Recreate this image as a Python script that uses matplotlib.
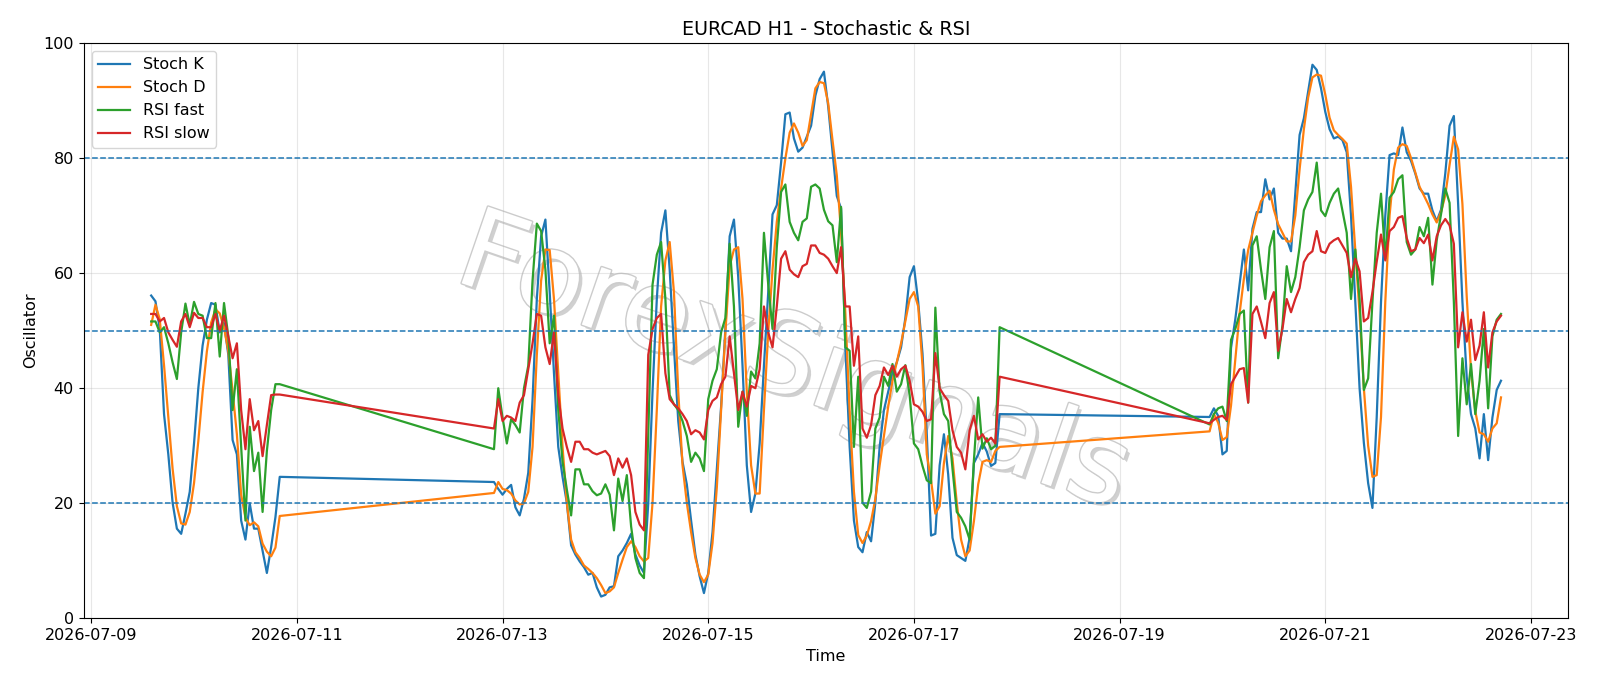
import matplotlib
matplotlib.use('Agg')
import matplotlib.pyplot as plt
import matplotlib.dates as mdates
import matplotlib.patheffects as pe
import pandas as pd

# hourly bars, three trading stretches (weekend gaps in between)
seg_starts = ['2026-07-09 14:00', '2026-07-12 22:00', '2026-07-19 21:00']
seg_hours = [31, 119, 69]

stoch_k = [
    # Jul 9 14:00 - Jul 10 20:00
    56.1, 55.1, 50.3, 35.5, 28.5, 20.1, 15.6, 14.7, 18.2, 22.0, 30.4, 40.0, 47.4, 51.9, 54.8, 54.5,
    49.7, 51.3, 45.8, 31.0, 28.5, 17.0, 13.7, 20.0, 15.6, 15.6, 11.8, 7.9, 12.4, 17.6, 24.6,
    # Jul 12 22:00 - Jul 17 20:00
    23.7, 22.5, 21.5, 22.5, 23.2, 19.3, 17.9, 20.8, 25.3, 38.0, 55.5, 66.4, 69.3, 56.7, 42.6, 29.8,
    24.6, 20.1, 12.7, 11.1, 9.9, 8.9, 7.6, 7.9, 5.4, 3.8, 4.1, 5.4, 5.6, 10.8, 11.8, 13.1, 14.7, 11.1, 9.2,
    7.9, 20.0, 39.4, 55.5, 67.0, 70.9, 60.6, 47.1, 34.3, 27.2, 23.3, 17.0, 11.1, 7.3, 4.4, 7.9, 15.0,
    25.9, 36.8, 50.3, 66.4, 69.3, 59.3, 43.9, 26.6, 18.5, 21.7, 30.4, 43.9, 56.7, 70.2, 71.8, 79.2, 87.6, 87.9,
    83.4, 81.1, 81.8, 83.7, 85.6, 90.8, 93.7, 95.0, 88.9, 81.1, 73.4, 71.2, 47.1, 29.8, 17.0, 12.4,
    11.5, 15.0, 13.4, 20.1, 29.8, 36.2, 39.4, 42.6, 44.5, 47.1, 52.2, 59.3, 61.2, 55.0, 46.0, 32.0,
    14.4, 14.7, 26.6, 32.0, 25.0, 14.0, 11.0, 10.5, 10.0, 14.0, 27.0, 28.5, 30.5, 29.0, 26.5, 27.0, 35.5,
    # Jul 19 21:00 - Jul 22 17:00
    35.0, 36.5, 35.2, 28.5, 29.1, 47.0, 52.0, 58.0, 64.1, 57.0, 67.7, 70.6, 70.6, 76.3, 72.8, 74.7,
    67.0, 66.0, 66.0, 63.8, 74.0, 84.0, 86.9, 91.5, 96.2, 95.3, 92.1, 88.0, 85.0, 83.4, 83.7, 83.1,
    81.0, 70.0, 55.0, 40.0,
    30.5, 23.5, 19.2, 35.0, 55.0, 70.0, 80.5, 80.8, 80.5, 85.3, 81.0, 79.5, 77.3, 74.7, 73.8, 73.8,
    70.9, 69.0, 71.0, 77.3, 85.6, 87.3, 72.0, 55.0, 42.0, 35.5, 33.0, 27.8, 35.5, 27.5, 34.9, 39.7, 41.3,
]

stoch_d = [
    51.0, 54.5, 52.0, 44.0, 35.0, 26.0, 19.5, 16.5, 16.3, 18.5, 23.5, 30.8, 39.3, 46.4, 51.4, 53.7,
    53.0, 50.5, 46.5, 39.5, 32.0, 21.5, 17.5, 16.2, 16.7, 16.0, 13.0, 11.6, 10.8, 12.3, 17.8,
    21.8, 23.7, 22.5, 22.3, 21.7, 20.5, 19.8, 20.0, 22.0, 29.8, 45.8, 58.7, 64.1, 64.0, 55.5, 42.6,
    29.8, 20.1, 13.7, 11.5, 10.5, 9.2, 8.6, 7.9, 7.0, 5.8, 4.4, 4.7, 5.4, 7.9, 10.2, 12.4, 13.4, 12.4, 10.8,
    9.9, 10.5, 20.1, 36.2, 54.2, 62.2, 65.4, 56.7, 39.4, 26.6, 20.1, 15.0, 10.5, 7.6, 6.3, 7.6, 13.1,
    22.7, 36.2, 49.7, 61.2, 64.1, 64.5, 55.5, 39.4, 26.6, 21.7, 21.7, 36.2, 49.7, 60.6, 68.9, 74.7, 79.9, 84.4,
    86.0, 84.4, 82.1, 83.1, 87.6, 92.1, 93.2, 93.0, 89.5, 83.1, 77.0, 67.0, 53.0, 36.0, 22.0, 14.5,
    13.1, 14.4, 16.9, 20.8, 26.6, 31.7, 36.8, 41.3, 44.5, 47.8, 51.6, 55.5, 56.7, 54.2, 43.9, 28.5,
    24.0, 18.2, 19.5, 27.0, 31.7, 27.8, 20.1, 13.7, 10.8, 11.8, 16.9, 23.3, 27.2, 27.5, 27.2, 29.1, 29.8,
    32.5, 35.5, 34.0, 31.0, 31.5, 37.0, 45.0, 53.0, 59.0, 64.0, 67.0, 70.0, 72.5, 73.5, 74.3, 71.0,
    68.5, 67.0, 65.5, 65.5, 70.0, 78.0, 85.0, 90.5, 94.0, 94.5, 94.3, 91.0, 87.0, 84.8, 84.0, 83.3,
    82.5, 75.0, 64.0, 53.0,
    40.0, 30.0, 24.6, 24.9, 35.0, 55.0, 70.0, 78.0, 81.8, 82.4, 82.1, 80.0, 77.5, 75.0, 73.5, 72.0,
    70.2, 68.8, 70.6, 73.5, 78.8, 83.7, 81.5, 72.0, 56.0, 43.0, 36.0, 32.3, 32.0, 30.7, 33.0, 33.9, 38.4,
]

rsi_fast = [
    51.6, 51.6, 49.7, 50.6, 47.8, 44.5, 41.6, 49.7, 54.7, 51.0, 55.0, 52.9, 52.6, 48.7, 48.7, 54.8,
    45.5, 54.8, 49.0, 36.2, 43.3, 29.8, 17.0, 33.3, 25.6, 28.8, 18.5, 29.1, 36.2, 40.7, 40.7,
    29.4, 40.0, 34.9, 30.4, 34.6, 33.6, 32.3, 40.0, 43.9, 58.7, 68.6, 67.3, 60.6, 47.8, 52.6, 36.2,
    27.2, 22.4, 17.9, 25.9, 25.9, 23.3, 23.3, 22.1, 21.4, 21.7, 23.3, 21.5, 15.3, 24.3, 20.4, 24.9, 16.0, 10.5, 7.9,
    7.0, 32.0, 58.0, 63.2, 65.4, 55.5, 38.8, 37.2, 36.2, 34.3, 31.7, 27.2, 28.8, 27.8, 25.6, 38.1, 41.3,
    43.3, 49.7, 52.2, 65.1, 54.2, 33.3, 39.4, 35.2, 42.9, 41.7, 47.8, 67.0, 58.0, 50.3, 64.5, 74.1, 75.4, 68.9,
    67.0, 65.7, 68.9, 69.5, 75.0, 75.4, 74.7, 71.0, 69.0, 68.3, 61.9, 71.5, 47.1, 46.5, 29.8, 42.0,
    20.1, 19.2, 22.0, 33.0, 34.9, 42.0, 40.4, 44.2, 39.4, 40.7, 44.0, 38.8, 30.4, 29.4, 26.5, 24.0,
    23.5, 54.0, 39.4, 35.5, 34.3, 26.0, 18.5, 17.5, 16.0, 13.7, 27.5, 38.4, 29.5, 31.3, 29.4, 30.0, 50.6,
    33.7, 35.5, 36.5, 36.8, 34.3, 48.4, 50.3, 52.9, 53.5, 37.5, 64.8, 66.4, 60.6, 55.5, 64.5, 67.3,
    45.2, 50.9, 61.2, 56.7, 59.3, 64.5, 70.9, 72.8, 74.1, 79.2, 70.9, 69.9, 72.2, 73.8, 74.7, 70.9,
    67.0, 55.5, 64.1, 55.5,
    39.7, 41.7, 55.0, 67.0, 73.8, 62.5, 73.1, 74.1, 76.3, 77.0, 65.4, 63.2, 64.1, 68.0, 66.4, 69.6,
    58.0, 65.7, 70.2, 74.7, 72.2, 55.0, 31.7, 45.2, 37.2, 44.2, 35.5, 41.3, 50.3, 36.5, 49.0, 51.9, 52.9,
]

rsi_slow = [
    52.9, 52.9, 51.6, 52.2, 49.7, 48.4, 47.2, 51.6, 52.9, 50.6, 53.1, 52.2, 52.2, 50.6, 50.6, 52.9,
    50.0, 52.6, 49.0, 45.2, 47.8, 36.2, 29.4, 38.1, 32.7, 34.3, 28.2, 33.6, 38.8, 38.9, 38.9,
    33.0, 38.1, 34.3, 35.2, 34.9, 34.3, 37.5, 38.8, 43.3, 47.8, 52.9, 52.6, 47.1, 44.2, 49.7, 38.8,
    33.0, 29.8, 27.2, 30.7, 30.7, 29.4, 29.4, 28.8, 28.5, 28.8, 29.1, 28.2, 24.9, 27.8, 26.2, 27.8, 24.9, 18.5, 16.3,
    15.3, 45.8, 50.3, 52.2, 52.9, 42.6, 38.1, 37.2, 36.5, 35.5, 34.3, 32.0, 32.7, 32.3, 31.1, 36.2, 37.8,
    38.4, 40.7, 42.0, 49.0, 42.6, 36.2, 39.4, 36.8, 40.4, 40.0, 43.3, 54.2, 49.7, 47.1, 54.2, 62.5, 63.8, 60.6,
    59.8, 59.3, 61.2, 61.6, 64.8, 64.8, 63.5, 63.2, 62.5, 61.2, 60.0, 64.5, 54.2, 54.2, 43.9, 49.0,
    33.0, 31.4, 33.6, 38.8, 40.4, 43.6, 42.3, 43.9, 42.0, 43.3, 43.9, 41.3, 37.2, 36.8, 35.9, 34.3,
    34.6, 46.1, 40.0, 38.8, 37.8, 32.7, 29.8, 28.8, 25.9, 32.7, 35.2, 31.1, 32.0, 30.7, 31.4, 30.4, 42.0,
    33.9, 34.5, 35.0, 35.2, 34.5, 40.7, 42.0, 43.3, 43.5, 37.5, 52.9, 54.2, 51.5, 48.7, 54.8, 56.7,
    46.5, 50.3, 55.5, 53.2, 55.5, 57.4, 61.9, 63.2, 63.8, 67.3, 63.8, 63.5, 65.1, 65.7, 66.1, 64.8,
    63.5, 59.3, 62.5, 60.3,
    51.6, 52.2, 56.7, 62.0, 66.7, 62.2, 67.3, 68.0, 69.6, 69.9, 66.1, 63.8, 64.1, 66.1, 65.2, 66.7,
    62.2, 66.4, 68.3, 69.4, 68.3, 65.1, 47.1, 53.2, 48.1, 51.9, 44.9, 47.4, 53.2, 43.6, 49.7, 51.6, 52.6,
]

levels = [80, 50, 20]

times = pd.DatetimeIndex([])
for start, n in zip(seg_starts, seg_hours):
    times = times.append(pd.date_range(start, periods=n, freq='h'))

fig, ax = plt.subplots(figsize=(16, 6.86), dpi=100)
fig.subplots_adjust(left=0.0523, right=0.9803, top=0.9375, bottom=0.0985)

ax.plot(times, stoch_k, label='Stoch K', lw=1.6)
ax.plot(times, stoch_d, label='Stoch D', lw=1.6)
ax.plot(times, rsi_fast, label='RSI fast', lw=1.6)
ax.plot(times, rsi_slow, label='RSI slow', lw=1.6)
for lv in levels:
    ax.axhline(lv, linestyle='--', linewidth=1.1, color='C0')

ax.set_ylim(0, 100)
ax.xaxis.set_major_locator(mdates.DayLocator(bymonthday=range(1, 32, 2)))
ax.xaxis.set_major_formatter(mdates.DateFormatter('%Y-%m-%d'))
ax.grid(True, alpha=0.3)
ax.tick_params(labelsize=11.5)
ax.set_xlabel('Time', fontsize=11.5)
ax.set_ylabel('Oscillator', fontsize=11.5)
ax.set_title('EURCAD H1 - Stochastic & RSI', fontsize=13.8)
ax.legend(loc='upper left', fontsize=11.5)

# watermark: outlined letters with a soft shadow
ax.text(0.478, 0.44, 'ForexSignals', transform=ax.transAxes, fontsize=80,
        color='white', rotation=-19, ha='center', va='center', zorder=0.5,
        path_effects=[pe.SimplePatchShadow(offset=(2.5, -2.5), shadow_rgbFace='#666666', alpha=0.3),
                      pe.Stroke(linewidth=2.0, foreground='#cccccc'),
                      pe.Normal()])

fig.savefig('out.png', dpi=100)
